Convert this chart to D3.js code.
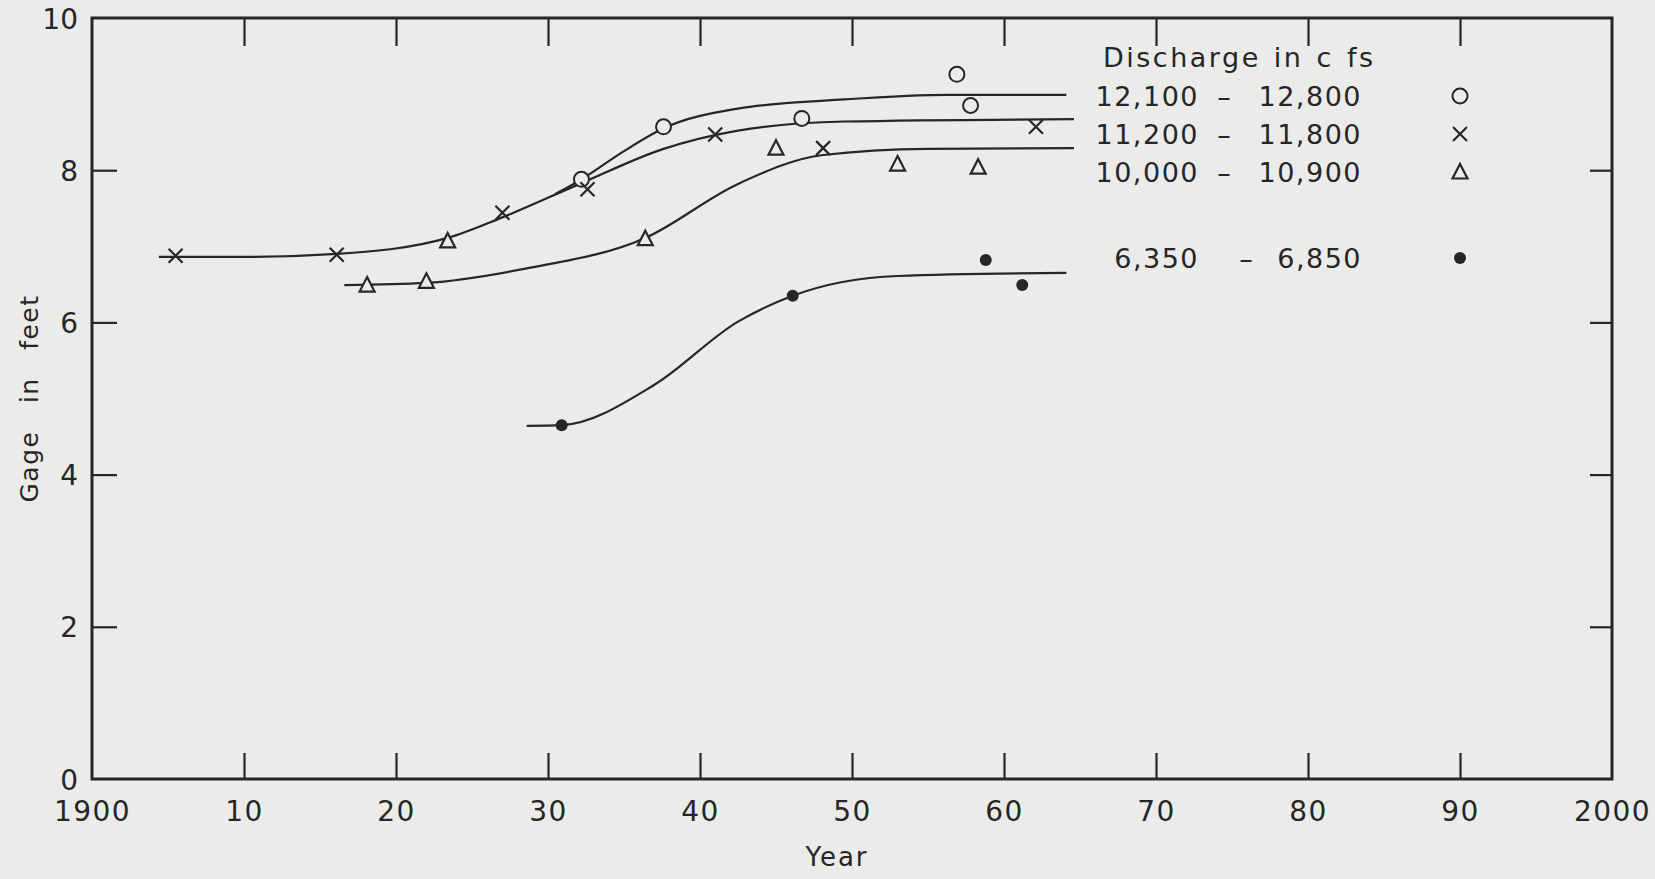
<!DOCTYPE html>
<html>
<head>
<meta charset="utf-8">
<script src="https://cdn.jsdelivr.net/npm/d3@7"></script>
<style>
  body { margin: 0; background: #ebebe9; }
  svg { display: block; }
  text { font-family: "DejaVu Sans", sans-serif; fill: #262626; }
</style>
</head>
<body>
<div id="chart"></div>
<script>
// gage readings, year (1900 + n) and feet
var circleYears = [32.2, 37.6, 46.7, 56.9, 57.8]
var circleGage  = [7.88, 8.57, 8.68, 9.26, 8.85]
var crossYears  = [5.5, 16.1, 27.0, 32.6, 41.0, 48.1, 62.1]
var crossGage   = [6.875, 6.89, 7.44, 7.75, 8.47, 8.29, 8.57]
var triYears    = [18.1, 22.0, 23.4, 36.4, 45.0, 53.0, 58.3]
var triGage     = [6.49, 6.54, 7.07, 7.10, 8.29, 8.08, 8.04]
var dotYears    = [30.9, 46.1, 58.8, 61.2]
var dotGage     = [4.65, 6.35, 6.82, 6.49]

// fitted curves
var curveCircleX = [30.5, 32.2, 35.0, 37.6, 42.5, 49.5, 56.4, 64.1]
var curveCircleY = [7.69, 7.88, 8.25, 8.55, 8.81, 8.93, 8.99, 8.99]
var curveCrossX  = [4.4, 10.0, 16.1, 23.4, 27.0, 32.2, 37.6, 42.5, 49.5, 64.6]
var curveCrossY  = [6.86, 6.86, 6.90, 7.11, 7.38, 7.83, 8.28, 8.52, 8.64, 8.67]
var curveTriX    = [16.6, 22.0, 28.6, 36.4, 42.5, 48.1, 55.0, 64.6]
var curveTriY    = [6.49, 6.52, 6.71, 7.11, 7.82, 8.20, 8.28, 8.29]
var curveDotX    = [28.6, 30.9, 37.0, 42.5, 46.1, 53.0, 64.1]
var curveDotY    = [4.64, 4.65, 5.18, 6.01, 6.35, 6.61, 6.65]

var legendLow  = ["12,100", "11,200", "10,000", "6,350"]
var legendHigh = ["12,800", "11,800", "10,900", "6,850"]
var legendKind = ["circle", "cross", "tri", "dot"]

var xTicks = [1900, 1910, 1920, 1930, 1940, 1950, 1960, 1970, 1980, 1990, 2000]
var yTicks = [0, 2, 4, 6, 8, 10]

var width = 1655
var height = 879
var ink = "#262626"

var x = d3.scaleLinear().domain([1900, 2000]).range([92, 1612])
var y = d3.scaleLinear().domain([0, 10]).range([779, 18])

var svg = d3.select('#chart').append('svg').attr('width', width).attr('height', height)

// axes with inward ticks
var axBottom = svg.append('g').attr('transform', 'translate(0,' + y(0) + ')')
  .call(d3.axisBottom(x).tickValues(xTicks).tickSizeInner(-26).tickSizeOuter(0).tickPadding(36)
    .tickFormat(function(d) { return (d == 1900 || d == 2000) ? d : d % 100 }))
var axTop = svg.append('g').attr('transform', 'translate(0,' + y(10) + ')')
  .call(d3.axisTop(x).tickValues(xTicks.slice(1, -1)).tickSizeInner(-28).tickSizeOuter(0).tickFormat(''))
var axLeft = svg.append('g').attr('transform', 'translate(' + x(1900) + ',0)')
  .call(d3.axisLeft(y).tickValues(yTicks).tickSizeInner(-25).tickSizeOuter(0).tickPadding(14))
var axRight = svg.append('g').attr('transform', 'translate(' + x(2000) + ',0)')
  .call(d3.axisRight(y).tickValues(yTicks.slice(1, -1)).tickSizeInner(-22).tickSizeOuter(0).tickFormat(''))

;[axBottom, axTop, axLeft, axRight].forEach(function(g) {
  g.select('.domain').remove()
  g.selectAll('line').attr('stroke', ink).attr('stroke-width', 2.2)
  g.selectAll('text').attr('font-size', 28).attr('fill', ink).attr('font-family', '"DejaVu Sans", sans-serif')
})
axLeft.selectAll('line').filter(function(d) { return d == 0 || d == 10 }).remove()
axBottom.selectAll('line').filter(function(d) { return d == 1900 || d == 2000 }).remove()
axBottom.selectAll('text').attr('dy', '0.2em').attr('letter-spacing', 1.5)
axLeft.selectAll('text').attr('dy', '0.36em')

// frame
svg.append('rect').attr('x', x(1900)).attr('y', y(10))
  .attr('width', x(2000) - x(1900)).attr('height', y(0) - y(10))
  .attr('fill', 'none').attr('stroke', ink).attr('stroke-width', 3)

svg.append('text').attr('x', 837).attr('y', 866).attr('text-anchor', 'middle')
  .attr('font-size', 26).attr('letter-spacing', 2).text('Year')
svg.append('text').attr('transform', 'translate(38,' + y(5) + ') rotate(-90)')
  .attr('text-anchor', 'middle').attr('font-size', 25).attr('word-spacing', 18).attr('letter-spacing', 1.5)
  .text('Gage in feet')

// curves
var line = d3.line().x(d => x(1900 + d[0])).y(d => y(d[1])).curve(d3.curveMonotoneX)
var curves = [[curveCircleX, curveCircleY], [curveCrossX, curveCrossY], [curveTriX, curveTriY], [curveDotX, curveDotY]]
svg.append('g').selectAll('path').data(curves).join('path')
  .attr('d', function(c) { return line(d3.zip(c[0], c[1])) })
  .attr('fill', 'none').attr('stroke', ink).attr('stroke-width', 2.2)

// markers
function marker(g, kind, cx, cy) {
  if (kind == 'circle') {
    g.append('circle').attr('cx', cx).attr('cy', cy).attr('r', 7.5)
      .attr('fill', '#ebebe9').attr('stroke', ink).attr('stroke-width', 2)
  } else if (kind == 'cross') {
    g.append('path').attr('d', 'M' + (cx - 7) + ',' + (cy - 7) + 'L' + (cx + 7) + ',' + (cy + 7) +
      'M' + (cx + 7) + ',' + (cy - 7) + 'L' + (cx - 7) + ',' + (cy + 7))
      .attr('stroke', ink).attr('stroke-width', 2.2)
  } else if (kind == 'tri') {
    g.append('path').attr('d', 'M' + cx + ',' + (cy - 8) + 'L' + (cx + 7.5) + ',' + (cy + 6.5) + 'L' + (cx - 7.5) + ',' + (cy + 6.5) + 'Z')
      .attr('fill', '#ebebe9').attr('stroke', ink).attr('stroke-width', 2.2)
  } else {
    g.append('circle').attr('cx', cx).attr('cy', cy).attr('r', 6).attr('fill', ink)
  }
}

var pts = svg.append('g')
var series = [[circleYears, circleGage, 'circle'], [crossYears, crossGage, 'cross'], [triYears, triGage, 'tri'], [dotYears, dotGage, 'dot']]
series.forEach(function(s) {
  s[0].forEach(function(yr, i) { marker(pts, s[2], x(1900 + yr), y(s[1][i])) })
})

// legend
var lg = svg.append('g')
lg.append('text').attr('x', 1103).attr('y', 67).attr('font-size', 27).attr('letter-spacing', 2.5).attr('word-spacing', 2).text('Discharge in c fs')
var rowY = [96, 134, 172, 258]
legendLow.forEach(function(v, i) {
  lg.append('text').attr('x', 1199).attr('y', rowY[i]).attr('dy', '0.36em').attr('text-anchor', 'end')
    .attr('font-size', 27).attr('letter-spacing', 1.5).text(v)
  lg.append('text').attr('x', i == 3 ? 1246 : 1224).attr('y', rowY[i]).attr('dy', '0.36em').attr('text-anchor', 'middle')
    .attr('font-size', 27).text('–')
  lg.append('text').attr('x', 1362).attr('y', rowY[i]).attr('dy', '0.36em').attr('text-anchor', 'end')
    .attr('font-size', 27).attr('letter-spacing', 1.5).text(legendHigh[i])
  marker(lg, legendKind[i], 1460, rowY[i])
})
</script>
</body>
</html>
